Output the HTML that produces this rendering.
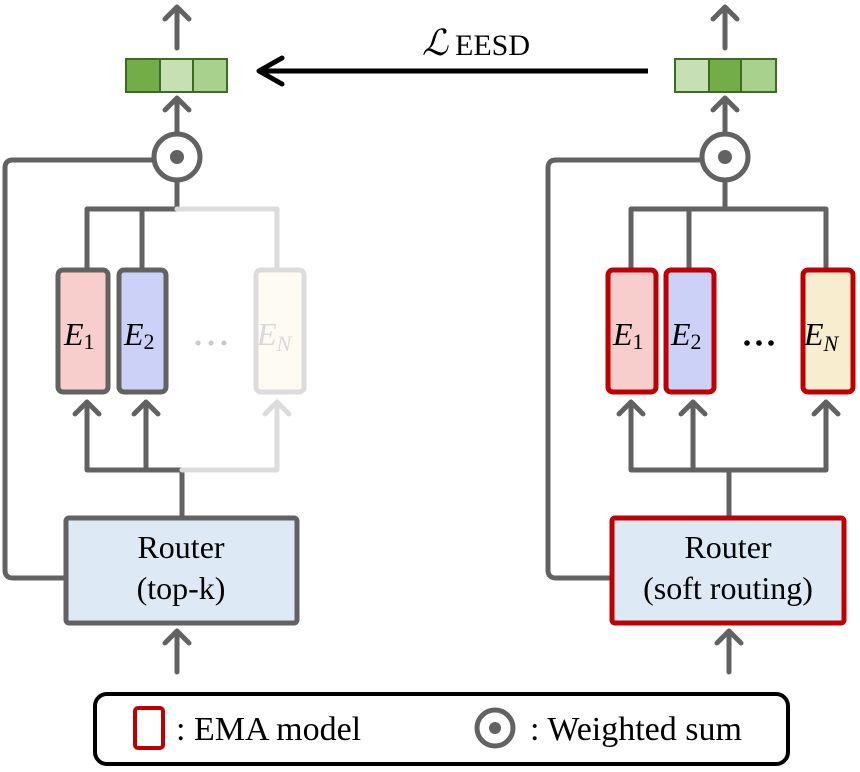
<!DOCTYPE html>
<html><head><meta charset="utf-8"><style>
html,body{margin:0;padding:0;background:#fff;}
svg{display:block;font-family:"Times New Roman",Times,"Liberation Serif","DejaVu Serif",serif;}
svg text{font-family:"Times New Roman",Times,"Liberation Serif","DejaVu Serif",serif;}
</style></head><body>
<svg width="860" height="772" viewBox="0 0 860 772" xmlns="http://www.w3.org/2000/svg">
<g fill="none" stroke-linecap="round" stroke-linejoin="round" stroke-width="5">
<path d="M177,48 L177,7 M165,19 L177,7 L189,19" stroke="#626262"/>
<path d="M177,134 L177,98 M165,110 L177,98 L189,110" stroke="#626262"/>
<path d="M154,160 L13,160 Q5,160 5,168 L5,570 Q5,578 13,578 L65,578" stroke="#626262"/>
<path d="M177,181 L177,209 L87,209 L87,268 M142,209 L142,268" stroke="#626262"/>
<path d="M177,209 L277,209 L277,268" stroke="#dcdcdc"/>
<path d="M182,517 L182,470 L87,470 L87,402 M75,414 L87,402 L99,414 M146,470 L146,402 M134,414 L146,402 L158,414" stroke="#626262"/>
<path d="M182,470 L277,470 L277,402 M265,414 L277,402 L289,414" stroke="#dcdcdc"/>
<path d="M177,672 L177,631 M165,643 L177,631 L189,643" stroke="#626262"/>

<path d="M725,48 L725,7 M713,19 L725,7 L737,19" stroke="#626262"/>
<path d="M725,134 L725,98 M713,110 L725,98 L737,110" stroke="#626262"/>
<path d="M702,160 L556,160 Q548,160 548,168 L548,570 Q548,578 556,578 L611,578" stroke="#626262"/>
<path d="M725,181 L725,209 L631,209 L631,268 M689,209 L689,268 M725,209 L826,209 L826,268" stroke="#626262"/>
<path d="M729,517 L729,470 L631,470 L631,402 M619,414 L631,402 L643,414 M693,470 L693,402 M681,414 L693,402 L705,414 M729,470 L826,470 L826,402 M814,414 L826,402 L838,414" stroke="#626262"/>
<path d="M729,672 L729,631 M717,643 L729,631 L741,643" stroke="#626262"/>
</g>

<g stroke="#3d6b22" stroke-width="2">
<rect x="126" y="59" width="34" height="33" fill="#72ad47"/>
<rect x="160" y="59" width="33" height="33" fill="#c6e0b4"/>
<rect x="193" y="59" width="34" height="33" fill="#a9d18e"/>
<rect x="675" y="59" width="34" height="33" fill="#c6e0b4"/>
<rect x="709" y="59" width="32" height="33" fill="#72ad47"/>
<rect x="741" y="59" width="35" height="33" fill="#a9d18e"/>
</g>

<path d="M648,71 L262,71" stroke="#000" stroke-width="5"/>
<path d="M282,58 L259,71 L282,84" fill="none" stroke="#000" stroke-width="5" stroke-linecap="round" stroke-linejoin="round"/>
<text x="422" y="55" font-size="36" font-style="italic" style="font-family:'DejaVu Serif',serif">ℒ</text>
<text x="455" y="55" font-size="30">EESD</text>

<circle cx="177" cy="157" r="23" fill="#fff" stroke="#626262" stroke-width="5"/>
<circle cx="177" cy="157" r="7" fill="#626262"/>
<circle cx="725" cy="157" r="23" fill="#fff" stroke="#626262" stroke-width="5"/>
<circle cx="725" cy="157" r="7" fill="#626262"/>

<rect x="58" y="270" width="50" height="122" rx="5" fill="#f8cecc" stroke="#626262" stroke-width="5"/>
<rect x="119" y="270" width="47" height="122" rx="5" fill="#ccd1f7" stroke="#626262" stroke-width="5"/>
<rect x="256" y="270" width="48" height="122" rx="5" fill="#fefbf3" stroke="#dcdcdc" stroke-width="5"/>
<text x="64" y="345" font-size="32" font-style="italic">E<tspan font-size="22" font-style="normal" dy="4">1</tspan></text>
<text x="124" y="345" font-size="32" font-style="italic">E<tspan font-size="22" font-style="normal" dy="4">2</tspan></text>
<text x="257" y="345" font-size="32" font-style="italic" fill="#d8d8d8">E<tspan font-size="22" dy="6">N</tspan></text>
<g fill="#c8c8c8"><circle cx="198" cy="343" r="2.5"/><circle cx="211" cy="343" r="2.5"/><circle cx="224" cy="343" r="2.5"/></g>

<rect x="608" y="270" width="48" height="122" rx="5" fill="#f8cecc" stroke="#c00000" stroke-width="5"/>
<rect x="666" y="270" width="48" height="122" rx="5" fill="#ccd1f7" stroke="#c00000" stroke-width="5"/>
<rect x="803" y="270" width="50" height="122" rx="5" fill="#f9edcf" stroke="#c00000" stroke-width="5"/>
<text x="613" y="345" font-size="32" font-style="italic">E<tspan font-size="22" font-style="normal" dy="4">1</tspan></text>
<text x="671" y="345" font-size="32" font-style="italic">E<tspan font-size="22" font-style="normal" dy="4">2</tspan></text>
<text x="804" y="345" font-size="32" font-style="italic">E<tspan font-size="22" dy="6">N</tspan></text>
<g fill="#000"><circle cx="747" cy="343" r="2.8"/><circle cx="759" cy="343" r="2.8"/><circle cx="771" cy="343" r="2.8"/></g>

<rect x="66" y="518" width="231" height="105" rx="3" fill="#dde9f5" stroke="#626262" stroke-width="5"/>
<text x="181" y="558" font-size="32" text-anchor="middle">Router</text>
<text x="181" y="599" font-size="32" text-anchor="middle">(top-k)</text>
<rect x="612" y="518" width="232" height="105" rx="3" fill="#dde9f5" stroke="#c00000" stroke-width="5"/>
<text x="728" y="558" font-size="32" text-anchor="middle">Router</text>
<text x="728" y="599" font-size="32" text-anchor="middle">(soft routing)</text>

<rect x="95" y="694" width="693" height="70" rx="12" fill="#fff" stroke="#000" stroke-width="4"/>
<rect x="135" y="708" width="28" height="40" rx="3" fill="#fff" stroke="#c00000" stroke-width="4"/>
<text x="176" y="740" font-size="34">: EMA model</text>
<circle cx="495" cy="728" r="18" fill="#fff" stroke="#626262" stroke-width="5"/>
<circle cx="495" cy="728" r="6" fill="#626262"/>
<text x="530" y="740" font-size="34">: Weighted sum</text>
</svg>
</body></html>
